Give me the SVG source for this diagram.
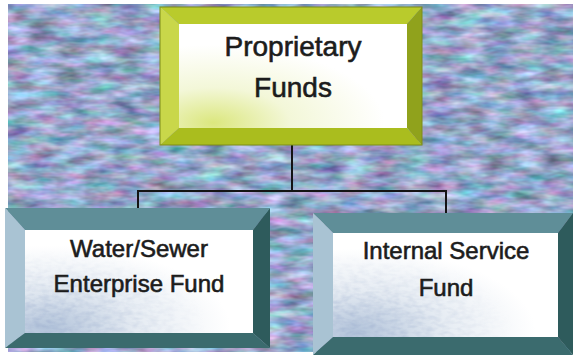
<svg xmlns="http://www.w3.org/2000/svg" width="573" height="358" viewBox="0 0 573 358">
  <defs>
    <!-- mottled woven backdrop -->
    <filter id="weave" x="0" y="0" width="100%" height="100%" color-interpolation-filters="sRGB">
      <feTurbulence type="fractalNoise" baseFrequency="0.035 0.11" numOctaves="3" seed="7" result="n"/>
      <feColorMatrix in="n" type="matrix" values="
        0.4 -0.12 0 0.55 0.17
        -0.08 0.35 0 0.55 0.24
        0 0.1 0.28 0.55 0.32
        0 0 0 0 1"/>
    </filter>
    <filter id="grain" x="0" y="0" width="100%" height="100%" color-interpolation-filters="sRGB">
      <feTurbulence type="fractalNoise" baseFrequency="0.12 0.25" numOctaves="2" seed="3" result="n"/>
      <feColorMatrix in="n" type="matrix" values="
        0 0 0 0 0.6
        0 0 0 0 0.67
        0 0 0 0 0.8
        1.6 0 0 0 -0.6"/>
    </filter>
    <radialGradient id="greenGlow" cx="0.15" cy="0.95" r="0.75">
      <stop offset="0" stop-color="#dbe77e"/>
      <stop offset="0.45" stop-color="#f3f7d8"/>
      <stop offset="1" stop-color="#ffffff"/>
    </radialGradient>
    <radialGradient id="blueGlow" cx="0.1" cy="0.95" r="0.8">
      <stop offset="0" stop-color="#b2c3da"/>
      <stop offset="0.5" stop-color="#e6ecf3"/>
      <stop offset="1" stop-color="#ffffff"/>
    </radialGradient>
    <radialGradient id="grainMask" cx="0.1" cy="0.9" r="0.7">
      <stop offset="0" stop-color="#fff" stop-opacity="0.6"/>
      <stop offset="1" stop-color="#fff" stop-opacity="0"/>
    </radialGradient>
    <mask id="m-left"><rect x="25" y="230" width="228" height="103" fill="url(#grainMask)"/></mask>
    <mask id="m-right"><rect x="333" y="233" width="225" height="104" fill="url(#grainMask)"/></mask>
    <style>
      .label { font-family: "Liberation Sans", Arial, sans-serif; fill: #1c1c1c; stroke: #1c1c1c; stroke-width: 0.6; text-anchor: middle; }
      .big { font-size: 28px; }
      .small { font-size: 24px; }
      .wire { stroke: #141414; stroke-width: 2; fill: none; stroke-linecap: square; }
      .g-top { fill: #b9cb2c; }
      .g-left { fill: #c9d74a; }
      .g-right { fill: #90a21c; }
      .g-bot { fill: #aabd1e; }
      .t-top { fill: #5f8e98; }
      .t-left { fill: #a9c3d3; }
      .t-right { fill: #2e5b5c; }
      .t-bot { fill: #3b6b6e; }
    </style>
  </defs>

  <rect width="573" height="358" fill="#ffffff"/>
  <!-- textured backdrop -->
  <rect x="8" y="4" width="565" height="348" filter="url(#weave)"/>

  <!-- connectors -->
  <g id="connectors">
    <path class="wire" d="M292 145 V191 M138 191 H446 M138 191 V210 M446 191 V215"/>
  </g>

  <!-- top node -->
  <g id="node-proprietary">
    <polygon class="g-top" points="160,7 422,7 407,24 179,24"/>
    <polygon class="g-left" points="160,7 179,24 179,128 160,145"/>
    <polygon class="g-right" points="422,7 422,145 407,128 407,24"/>
    <polygon class="g-bot" points="160,145 422,145 407,128 179,128"/>
    <rect x="179" y="24" width="228" height="104" fill="url(#greenGlow)"/>
    <rect x="160" y="7" width="262" height="138" fill="none" stroke="#7d8c18" stroke-width="1"/>
    <text class="label big" x="293" y="56">Proprietary</text>
    <text class="label big" x="293" y="97">Funds</text>
  </g>

  <!-- lower left node -->
  <g id="node-water-sewer">
    <polygon class="t-top" points="5,208 270,208 253,230 25,230"/>
    <polygon class="t-left" points="5,208 25,230 25,333 5,348"/>
    <polygon class="t-right" points="270,208 270,348 253,333 253,230"/>
    <polygon class="t-bot" points="5,348 270,348 253,333 25,333"/>
    <rect x="25" y="230" width="228" height="103" fill="url(#blueGlow)"/>
    <rect x="25" y="230" width="228" height="103" filter="url(#grain)" mask="url(#m-left)"/>
    <text class="label small" x="139" y="257">Water/Sewer</text>
    <text class="label small" x="139" y="292">Enterprise Fund</text>
  </g>

  <!-- lower right node -->
  <g id="node-internal-service">
    <polygon class="t-top" points="313,213 573,213 558,233 333,233"/>
    <polygon class="t-left" points="313,213 333,233 333,337 313,355"/>
    <polygon class="t-right" points="573,213 573,355 558,337 558,233"/>
    <polygon class="t-bot" points="313,355 573,355 558,337 333,337"/>
    <rect x="333" y="233" width="225" height="104" fill="url(#blueGlow)"/>
    <rect x="333" y="233" width="225" height="104" filter="url(#grain)" mask="url(#m-right)"/>
    <text class="label small" x="446" y="259">Internal Service</text>
    <text class="label small" x="446" y="296">Fund</text>
  </g>
</svg>
